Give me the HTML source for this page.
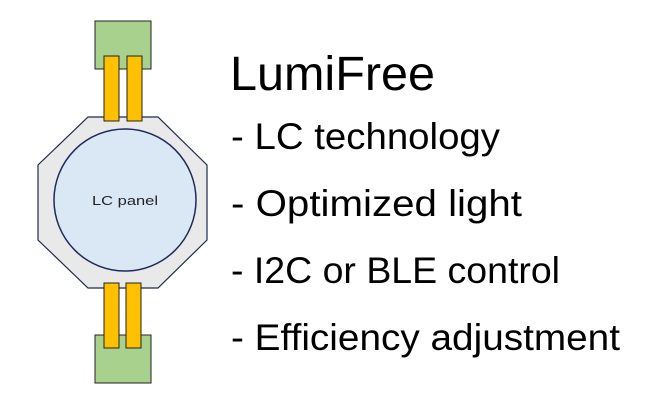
<!DOCTYPE html>
<html><head><meta charset="utf-8"><style>
html,body{margin:0;padding:0;background:#fff;width:650px;height:406px;overflow:hidden}
</style></head><body>
<svg width="650" height="406" viewBox="0 0 650 406" xmlns="http://www.w3.org/2000/svg" font-family="Liberation Sans, sans-serif">
<rect x="95" y="21" width="56" height="48" fill="#a9d18e" stroke="#222" stroke-width="1"/>
<rect x="95" y="335" width="56" height="48" fill="#a9d18e" stroke="#222" stroke-width="1"/>
<polygon points="88,117 158,117 207,165 207,240 158,288 88,288 38,240 38,165" fill="#e9e9e9" stroke="#1f2a4d" stroke-width="1.2"/>
<rect x="104" y="56" width="15" height="65" fill="#ffc000" stroke="#222" stroke-width="1"/>
<rect x="127" y="56" width="15" height="65" fill="#ffc000" stroke="#222" stroke-width="1"/>
<rect x="104" y="283" width="15" height="65" fill="#ffc000" stroke="#222" stroke-width="1"/>
<rect x="126" y="283" width="15" height="65" fill="#ffc000" stroke="#222" stroke-width="1"/>
<circle cx="125" cy="200" r="71" fill="#dae8f6" stroke="#1f2a5a" stroke-width="1.5"/>
<text x="125" y="205" font-size="13" text-anchor="middle" fill="#222" textLength="66" lengthAdjust="spacingAndGlyphs">LC panel</text>
<g fill="#000">
<text x="230" y="90" font-size="48" textLength="205" lengthAdjust="spacingAndGlyphs">LumiFree</text>
<text x="231" y="149" font-size="37" textLength="269" lengthAdjust="spacingAndGlyphs">- LC technology</text>
<text x="231" y="216" font-size="37" textLength="291" lengthAdjust="spacingAndGlyphs">- Optimized light</text>
<text x="231" y="283" font-size="37" textLength="329" lengthAdjust="spacingAndGlyphs">- I2C or BLE control</text>
<text x="231" y="350" font-size="37" textLength="389" lengthAdjust="spacingAndGlyphs">- Efficiency adjustment</text>
</g>
</svg>
</body></html>
